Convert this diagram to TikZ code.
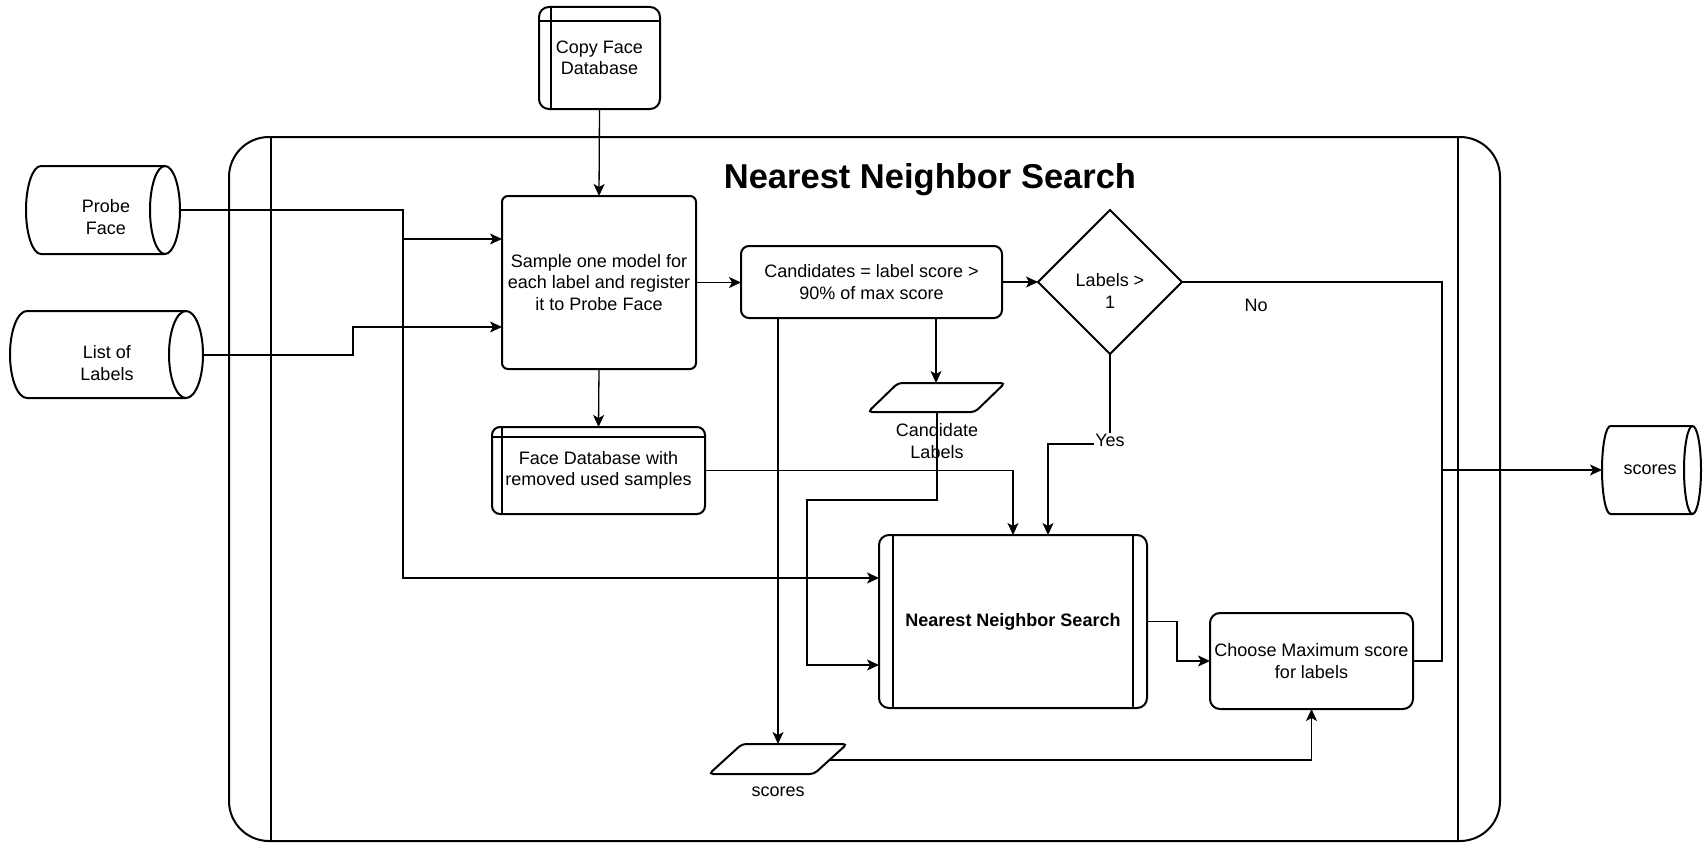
\documentclass[tikz,border=0pt]{standalone}
\usepackage{fontspec}
\setmainfont{Liberation Sans}
\usetikzlibrary{arrows.meta,shapes.geometric}
\newcommand\ntxt{\fontsize{18}{21.6}\selectfont}
\begin{document}
\begin{tikzpicture}[x=1pt,y=-1pt,
  ln/.style={line width=2pt},
  shp/.style={draw, line width=2pt, inner sep=0pt, outer sep=0pt, align=center, font=\ntxt},
  rbox/.style={shp, rounded corners=8pt},
  anch/.style={inner sep=0pt, outer sep=0pt},
  conn/.style={line width=1.3pt, -{Stealth[length=12pt,width=11pt,inset=3pt]}},
  plain/.style={line width=1.3pt},
  lbl/.style={inner sep=1pt, align=center, font=\ntxt}]
\useasboundingbox (0,0) rectangle (1703,843);

% outer container
\node[draw, ln, rounded corners=40pt, minimum width=1271, minimum height=704, anch] (cont) at (864.5,489) {};
\draw[ln] ([xshift=42pt]cont.north west) -- ([xshift=42pt]cont.south west);
\draw[ln] ([xshift=-42pt]cont.north east) -- ([xshift=-42pt]cont.south east);
\node[font=\fontsize{34.5}{40}\selectfont\bfseries] (title) at (930,180) {Nearest Neighbor Search};

% Probe Face cylinder
\node[anch, minimum width=154, minimum height=88] (probe) at (103,210) {};
\draw[ln] (41,166) -- (165,166) arc[start angle=90,end angle=-90,x radius=15pt,y radius=44pt] -- (41,254) arc[start angle=270,end angle=90,x radius=15pt,y radius=44pt] -- cycle;
\draw[ln] (165,166) arc[start angle=90,end angle=270,x radius=15pt,y radius=44pt];
\node[lbl] (probeT) at (106,217) {Probe\\Face};

% List of Labels cylinder
\node[anch, minimum width=193, minimum height=87] (list) at (106.5,355) {};
\draw[ln] (27,311) -- (186,311) arc[start angle=90,end angle=-90,x radius=17pt,y radius=43.5pt] -- (27,398) arc[start angle=270,end angle=90,x radius=17pt,y radius=43.5pt] -- cycle;
\draw[ln] (186,311) arc[start angle=90,end angle=270,x radius=17pt,y radius=43.5pt];
\node[lbl] (listT) at (107,363) {List of\\Labels};

% scores cylinder
\node[anch, minimum width=99, minimum height=88] (scyl) at (1651.5,470) {};
\draw[ln] (1610.5,426) -- (1692.5,426) arc[start angle=90,end angle=-90,x radius=8.5pt,y radius=44pt] -- (1610.5,514) arc[start angle=270,end angle=90,x radius=8.5pt,y radius=44pt] -- cycle;
\draw[ln] (1692.5,426) arc[start angle=90,end angle=270,x radius=8.5pt,y radius=44pt];
\node[lbl] (scylT) at (1650,470) {scores};

% Copy Face Database (internal storage)
\node[rbox, rounded corners=10pt, minimum width=121, minimum height=102] (copy) at (599.5,58) {Copy Face\\Database};
\draw[ln] ([xshift=12pt]copy.north west) -- ([xshift=12pt]copy.south west);
\draw[ln] ([yshift=-14pt]copy.north west) -- ([yshift=-14pt]copy.north east);

% Sample box
\node[rbox, rounded corners=6pt, minimum width=194, minimum height=173] (sample) at (599,282.5) {Sample one model for\\each label and register\\it to Probe Face};

% Candidates box
\node[rbox, minimum width=261, minimum height=72] (cand) at (871.5,282) {Candidates = label score >\\90\% of max score};

% Decision diamond
\node[shp, diamond, minimum width=144, minimum height=144] (dia) at (1110,282) {};
\node[lbl] (diaT) at (1110,291) {Labels >\\1};

% Candidate Labels parallelogram
\node[anch, minimum width=137, minimum height=29] (candl) at (936.5,397.5) {};
\draw[ln, rounded corners=4pt] (868,412) -- (898,383) -- (1005,383) -- (975,412) -- cycle;
\node[lbl] (candlT) at (937,441) {Candidate\\Labels};

% Face Database with removed used samples
\node[rbox, minimum width=213, minimum height=87] (fdb) at (598.5,470.5) {Face Database with\\removed used samples};
\draw[ln] ([xshift=10pt]fdb.north west) -- ([xshift=10pt]fdb.south west);
\draw[ln] ([yshift=-10pt]fdb.north west) -- ([yshift=-10pt]fdb.north east);

% Nearest Neighbor Search process
\node[rbox, rounded corners=10pt, minimum width=268, minimum height=173, font=\ntxt\bfseries] (nns) at (1013,621.5) {Nearest Neighbor Search};
\draw[ln] ([xshift=14pt]nns.north west) -- ([xshift=14pt]nns.south west);
\draw[ln] ([xshift=-14pt]nns.north east) -- ([xshift=-14pt]nns.south east);

% Choose Maximum score
\node[rbox, rounded corners=10pt, minimum width=203, minimum height=96] (choose) at (1311.5,661) {Choose Maximum score\\for labels};

% scores parallelogram
\node[anch, minimum width=138, minimum height=30] (spara) at (778,759) {};
\draw[ln, rounded corners=4pt] (709,774) -- (742,744) -- (847,744) -- (814,774) -- cycle;
\node[lbl] (sparaT) at (778,792) {scores};

% connectors
\draw[conn] (copy.south) -- (sample.north);
\draw[conn] (probe.east) -- (403,210) -- (403,578) -- (nns.west |- 0,578);
\coordinate (jP) at (403,239);
\draw[conn] (jP) -- (sample.west |- jP);
\draw[conn] (list.east) -- (353,355) -- (353,327) -- (sample.west |- 0,327);
\draw[conn] (sample.east) -- (sample.east -| cand.west);
\draw[conn] (sample.south) -- (fdb.north);
\draw[conn] (cand.east) -- (dia.west);
\draw[conn] (cand.south -| 936,0) -- (candl.north -| 936,0);
\draw[conn] (cand.south -| 778,0) -- (spara.north -| 778,0);
\draw[conn] (candl.south -| 937,0) -- (937,500) -- (807,500) -- (807,665) -- (nns.west |- 0,665);
\draw[conn] (fdb.east) -| (nns.north);
\draw[conn] (dia.south) -- (1110,444) -- (1048,444) -- (nns.north -| 1048,0);
\node[lbl, fill=white] (yes) at (1110,440) {Yes};
\coordinate (jS) at (1442,470);
\draw[plain] (dia.east) -| (jS);
\draw[plain] (choose.east) -| (jS);
\draw[conn] (jS) -- (scyl.west);
\node[lbl] (no) at (1256,305) {No};
\draw[conn] (nns.east) -- (1177,621.5) -- (1177,661) -- (choose.west);
\coordinate (spR) at (829,760);
\draw[conn] (spR) -| (choose.south);
\end{tikzpicture}
\end{document}
